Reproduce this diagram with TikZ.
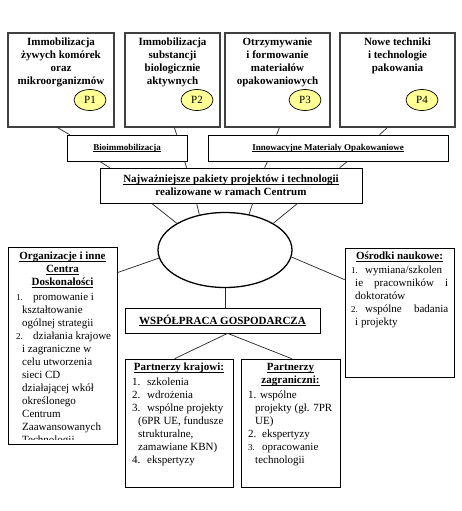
\documentclass[tikz,border=0pt]{standalone}
\usepackage{fontspec}
\setmainfont{Liberation Serif}
\usetikzlibrary{calc,shapes.geometric}
\definecolor{badge}{RGB}{255,255,150}
\newsavebox\ulbox
\newcommand\myul[1]{\sbox\ulbox{#1}\rlap{\rule[-1.6pt]{\wd\ulbox}{0.6pt}}\usebox\ulbox}
\newcommand\nr[2]{\makebox[#1][l]{#2}}
\newcommand\nrs[2]{\makebox[#1][l]{\fontsize{9}{13}\selectfont #2}}
\begin{document}
\begin{tikzpicture}[x=1pt,y=-1pt,
  frame/.style={draw=black, line width=0.7pt, inner sep=0pt},
  topframe/.style={draw=black!75, line width=1.2pt, inner sep=0pt},
  link/.style={draw=black!85, line width=0.7pt},
  bigtxt/.style={font=\fontsize{11}{13}\selectfont\bfseries, align=center, inner sep=0pt},
  pkgtxt/.style={font=\fontsize{9}{11}\selectfont\bfseries, align=center},
  bodytxt/.style={font=\fontsize{11}{13}\selectfont, align=left, inner sep=0pt, anchor=north west},
  pbadge/.style={ellipse, draw=black, line width=0.7pt, fill=badge, minimum width=32pt, minimum height=21pt, inner sep=0pt, font=\fontsize{11}{13}\selectfont}
]
\fill[white] (0,0) rectangle (462,511);
\useasboundingbox (0,0) rectangle (462,511);

% top boxes
\node[topframe, minimum width=106pt, minimum height=94pt] (b1) at (61,80) {};
\node[topframe, minimum width=95pt, minimum height=94pt] (b2) at (172.5,80) {};
\node[topframe, minimum width=105pt, minimum height=94pt] (b3) at (277.5,80) {};
\node[topframe, minimum width=115pt, minimum height=94pt] (b4) at (397.5,80) {};
\node[bigtxt, anchor=north] (t1) at ($(b1.north)+(0,4)$) {\strut Immobilizacja\\żywych komórek\\oraz\\mikroorganizmów};
\node[bigtxt, anchor=north] (t2) at ($(b2.north)+(0,4)$) {\strut Immobilizacja\\substancji\\biologicznie\\aktywnych};
\node[bigtxt, anchor=north] (t3) at ($(b3.north)+(0,4)$) {\strut Otrzymywanie\\i formowanie\\materiałów\\opakowaniowych};
\node[bigtxt, anchor=north] (t4) at ($(b4.north)+(0,4)$) {\strut Nowe techniki\\i technologie\\pakowania};
\node[pbadge] (p1) at (90,100) {P1};
\node[pbadge] (p2) at (197,100) {P2};
\node[pbadge] (p3) at (305,100) {P3};
\node[pbadge] (p4) at (422,100) {P4};

% second row
\node[frame, pkgtxt, minimum width=120pt, minimum height=26pt] (bio) at (127,148) {\myul{Bioimmobilizacja}};
\node[frame, pkgtxt, minimum width=240pt, minimum height=26pt] (inn) at (328,148) {\myul{Innowacyjne Materialy Opakowaniowe}};

% centre box
\node[frame, bigtxt, minimum width=262pt, minimum height=35pt] (cen) at (231,185.5) {\myul{Najważniejsze pakiety projektów i technologii}\\realizowane w ramach Centrum};

% ellipse
\node[ellipse, draw=black, line width=1.3pt, minimum width=134pt, minimum height=75pt, inner sep=0pt] (ell) at (225,250) {};

% left box
\node[frame, minimum width=109pt, minimum height=197pt] (org) at (62.5,345.5) {};
\node[bigtxt, anchor=north] (orgh) at ($(org.north)+(0,4)$) {\strut\myul{Organizacje i inne}\\\myul{Centra}\\\myul{Doskonałości}};
\begin{scope}
\clip (org.north west) rectangle ($(org.north east)+(0,192.5)$);
\node[bodytxt] (orgl) at (16,291) {\strut\nrs{17pt}{1.}promowanie i\\
\hspace*{6pt}kształtowanie\\
\hspace*{6pt}ogólnej strategii\\
\nrs{17pt}{2.}działania krajowe\\
\hspace*{6pt}i zagraniczne w\\
\hspace*{6pt}celu utworzenia\\
\hspace*{6pt}sieci CD\\
\hspace*{6pt}działającej wkół\\
\hspace*{6pt}określonego\\
\hspace*{6pt}Centrum\\
\hspace*{6pt}Zaawansowanych\\
\hspace*{6pt}Technologii};
\end{scope}

% right box
\node[frame, minimum width=109pt, minimum height=129pt] (osr) at (399.5,312.5) {};
\node[bigtxt, anchor=north] (osrh) at ($(osr.north)+(0,3)$) {\strut\myul{Ośrodki naukowe:}};
\node[bodytxt] (osrl) at (351,264) {\strut\nrs{14pt}{1.}wymiana/szkolen\\
\hspace*{4pt}\makebox[93pt][s]{ie pracowników i}\\
\hspace*{4pt}doktoratów\\
\nrs{14pt}{2.}\makebox[83pt][s]{wspólne badania}\\
\hspace*{4pt}i projekty};

% wspolpraca
\node[frame, bigtxt, minimum width=195pt, minimum height=25pt] (wsp) at (222.5,320.5) {\myul{WSPÓŁPRACA GOSPODARCZA}};

% partners
\node[frame, minimum width=108pt, minimum height=128pt] (kra) at (179,423) {};
\node[bigtxt, anchor=north] (krah) at ($(kra.north)+(0,3)$) {\strut\myul{Partnerzy krajowi:}};
\node[bodytxt] (kral) at (132,376) {\strut\nr{15pt}{1.}szkolenia\\
\nr{15pt}{2.}wdrożenia\\
\nr{15pt}{3.}wspólne projekty\\
\hspace*{6pt}(6PR UE, fundusze\\
\hspace*{6pt}strukturalne,\\
\hspace*{6pt}zamawiane KBN)\\
\nr{15pt}{4.}ekspertyzy};

\node[frame, minimum width=99pt, minimum height=128pt] (zag) at (290.5,423) {};
\node[bigtxt, anchor=north] (zagh) at ($(zag.north)+(0,3)$) {\strut\myul{Partnerzy}\\\myul{zagraniczni:}};
\node[bodytxt] (zagl) at (248,389) {\strut\nr{12pt}{1.}wspólne\\
\hspace*{7pt}projekty (gł. 7PR\\
\hspace*{7pt}UE)\\
\nr{14pt}{2.}ekspertyzy\\
\nrs{14pt}{3.}opracowanie\\
\hspace*{7pt}technologii};

% connectors
\draw[link] ($(b1.south west)+(50,0)$) -- ($(bio.north west)+(3,0)$);
\draw[link] ($(b2.south west)+(50,0)$) -- ($(bio.north west)+(110,0)$);
\draw[link] ($(b3.south west)+(55,0)$) -- ($(inn.north west)+(69,0)$);
\draw[link] ($(b4.south west)+(48,0)$) -- ($(inn.north west)+(172,0)$);
\draw[link] ($(bio.south west)+(33,0)$) -- ($(cen.north west)+(10,0)$);
\draw[link] ($(bio.south west)+(118,0)$) -- ($(cen.north west)+(87,0)$);
\draw[link] ($(inn.south west)+(60,0)$) -- ($(cen.north west)+(165,0)$);
\draw[link] ($(inn.south west)+(140,0)$) -- ($(cen.north west)+(240,0)$);
\draw[link] ($(cen.south west)+(52,0)$) -- (ell.151);
\draw[link] ($(cen.south west)+(97,0)$) -- (ell.126);
\draw[link] ($(cen.south west)+(153,0)$) -- (ell.56);
\draw[link] ($(cen.south west)+(198,0)$) -- (ell.29);
\draw[link] (ell.187) -- ($(org.north east)+(0,26)$);
\draw[link] (ell.354) -- ($(osr.north west)+(0,32)$);
\draw[link] (ell.south) -- (ell.south |- wsp.north);
\draw[link] ($(wsp.south west)+(103,0)$) -- ($(kra.north west)+(50,0)$);
\draw[link] ($(wsp.south west)+(103,0)$) -- ($(zag.north west)+(51,0)$);
\end{tikzpicture}
\end{document}
